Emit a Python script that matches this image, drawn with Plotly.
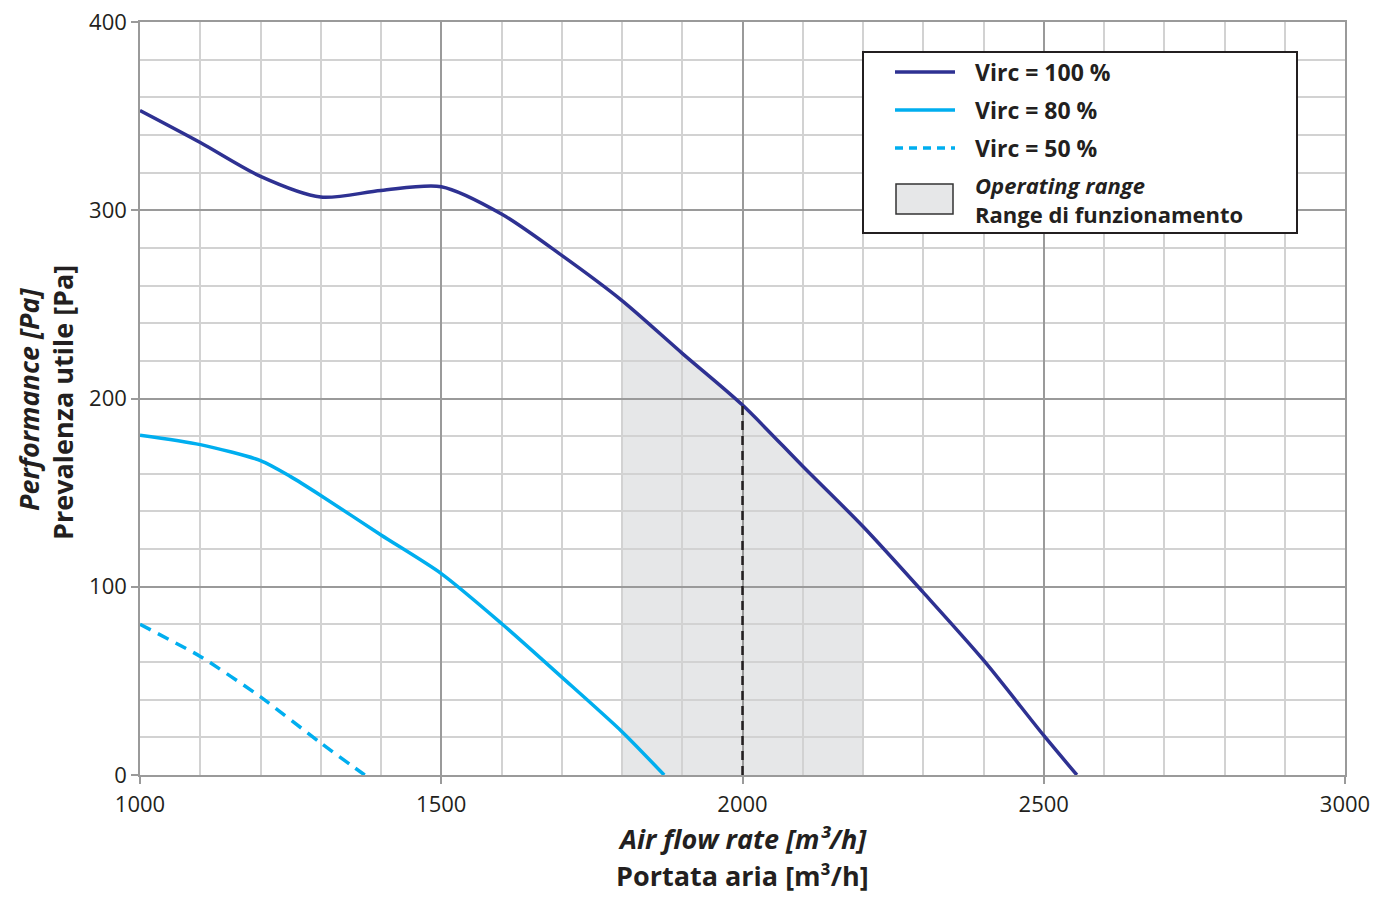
import plotly.graph_objects as go

# ---- data ----
x100 = [1000, 1100, 1200, 1300, 1400, 1500, 1600, 1700, 1800, 1900, 2000, 2100, 2200, 2300, 2400, 2500, 2555]
y100 = [353, 336, 318, 307, 310.5, 312.5, 298, 276, 252, 224, 196.5, 164, 132, 97, 61, 21, 0]

x80 = [1000, 1100, 1200, 1250, 1300, 1400, 1500, 1600, 1700, 1800, 1870]
y80 = [180.5, 175.5, 167, 158.5, 148.5, 127.5, 107, 80.5, 52, 23, 0]

x50 = [1000, 1100, 1200, 1300, 1373]
y50 = [80, 63, 41.5, 17, 0]

op_range = [1800, 2200]
duty_x = 2000

series_names = ["Virc = 100 %", "Virc = 80 %", "Virc = 50 %"]
range_names = ["Operating range", "Range di funzionamento"]

x_title = ["Air flow rate [m³/h]", "Portata aria [m³/h]"]
y_title = ["Performance [Pa]", "Prevalenza utile [Pa]"]

NAVY = "#2E3192"
CYAN = "#00AEEF"
TXT = "#231F20"
FILL = "#E6E7E8"
FONT = "Open Sans"

fig = go.Figure()

fig.add_trace(go.Scatter(x=x100, y=y100, mode="lines", name=series_names[0],
                         line=dict(color=NAVY, width=3.5, shape="spline", smoothing=0.8),
                         showlegend=False))
fig.add_trace(go.Scatter(x=x80, y=y80, mode="lines", name=series_names[1],
                         line=dict(color=CYAN, width=3.5, shape="spline", smoothing=0.7),
                         showlegend=False))
fig.add_trace(go.Scatter(x=x50, y=y50, mode="lines", name=series_names[2],
                         line=dict(color=CYAN, width=3.5, dash="12px,8px", shape="spline", smoothing=0.6),
                         showlegend=False))

# duty point vertical dashed line
duty_y = y100[x100.index(duty_x)]
fig.add_trace(go.Scatter(x=[duty_x, duty_x], y=[0, duty_y], mode="lines",
                         line=dict(color=TXT, width=2.5, dash="9px,6px"),
                         showlegend=False, hoverinfo="skip"))

# operating range fill (below gridlines)
pts = [(x, y) for x, y in zip(x100, y100) if op_range[0] <= x <= op_range[1]]
path = f"M {op_range[0]},0 " + " ".join(f"L {x},{y}" for x, y in pts) + f" L {op_range[1]},0 Z"
shapes = [dict(type="path", path=path, xref="x", yref="y", fillcolor=FILL,
               line=dict(width=0), layer="below")]

# ---- manual legend (paper coords) ----
def px(xp):
    return (xp - 140) / 1205

def py(yp):
    return (775 - yp) / 753

shapes.append(dict(type="rect", xref="paper", yref="paper",
                   x0=px(863), x1=px(1297), y0=py(233), y1=py(52),
                   line=dict(color=TXT, width=2), fillcolor="white", layer="above"))
leg_rows = [72, 110, 148]
leg_styles = [dict(color=NAVY, width=3.5), dict(color=CYAN, width=3.5),
              dict(color=CYAN, width=3.5, dash="8px,6px")]
for yrow, st in zip(leg_rows, leg_styles):
    shapes.append(dict(type="line", xref="paper", yref="paper",
                       x0=px(895), x1=px(955), y0=py(yrow), y1=py(yrow),
                       line=st, layer="above"))
shapes.append(dict(type="rect", xref="paper", yref="paper",
                   x0=px(896), x1=px(953), y0=py(214), y1=py(184),
                   line=dict(color="#333333", width=1.5), fillcolor=FILL, layer="above"))

LEGF = dict(size=23, color=TXT, family=FONT)
annotations = []
for yrow, name in zip(leg_rows, series_names):
    annotations.append(dict(text=f"<b>{name}</b>", xref="paper", yref="paper",
                            x=px(973), y=py(yrow), xanchor="left", yanchor="middle",
                            showarrow=False, font=LEGF))
annotations.append(dict(text=f"<b><i>{range_names[0]}</i></b><br><b>{range_names[1]}</b>",
                        xref="paper", yref="paper", align="left",
                        x=px(973), y=py(199), xanchor="left", yanchor="middle",
                        showarrow=False, font=dict(size=22, color=TXT, family=FONT)))

# axis titles
TITF = dict(size=27, color=TXT, family=FONT)
annotations.append(dict(text=f"<b><i>{x_title[0]}</i></b>", xref="paper", yref="paper",
                        x=px(742), y=py(838), xanchor="center", yanchor="middle",
                        showarrow=False, font=TITF))
annotations.append(dict(text=f"<b>{x_title[1]}</b>", xref="paper", yref="paper",
                        x=px(742), y=py(876), xanchor="center", yanchor="middle",
                        showarrow=False, font=TITF))
annotations.append(dict(text=f"<b><i>{y_title[0]}</i></b>", xref="paper", yref="paper",
                        x=px(28), y=py(400), xanchor="center", yanchor="middle", textangle=-90,
                        showarrow=False, font=TITF))
annotations.append(dict(text=f"<b>{y_title[1]}</b>", xref="paper", yref="paper",
                        x=px(62), y=py(402), xanchor="center", yanchor="middle", textangle=-90,
                        showarrow=False, font=TITF))

MAJ = "#9A9A9A"
MIN = "#D2D2D2"
TICKF = dict(size=22, color=TXT, family=FONT)

fig.update_layout(
    width=1391, height=897,
    margin=dict(l=140, r=46, t=22, b=122),
    paper_bgcolor="white", plot_bgcolor="white",
    font=dict(family=FONT, color=TXT, size=22),
    shapes=shapes, annotations=annotations,
    showlegend=False,
    xaxis=dict(range=[1000, 3000], dtick=500, tick0=1000,
               showgrid=True, gridcolor=MAJ, gridwidth=1.5,
               minor=dict(dtick=100, showgrid=True, gridcolor=MIN, gridwidth=1.5),
               showline=True, linecolor=MAJ, linewidth=1.5, mirror=True,
               ticks="outside", ticklen=7, tickcolor=MAJ, tickwidth=1.5,
               tickfont=TICKF, automargin=False, ticklabelstandoff=2,
               zeroline=False, fixedrange=True),
    yaxis=dict(range=[0, 400], dtick=100, tick0=0,
               showgrid=True, gridcolor=MAJ, gridwidth=1.5,
               minor=dict(dtick=20, showgrid=True, gridcolor=MIN, gridwidth=1.5),
               showline=True, linecolor=MAJ, linewidth=1.5, mirror=True,
               ticks="outside", ticklen=7, tickcolor=MAJ, tickwidth=1.5,
               tickfont=TICKF, automargin=False,
               zeroline=False, fixedrange=True),
)

fig.write_html("out.html", config={"displayModeBar": False},
               post_script="document.body.style.margin='0';document.body.style.overflow='hidden';")
